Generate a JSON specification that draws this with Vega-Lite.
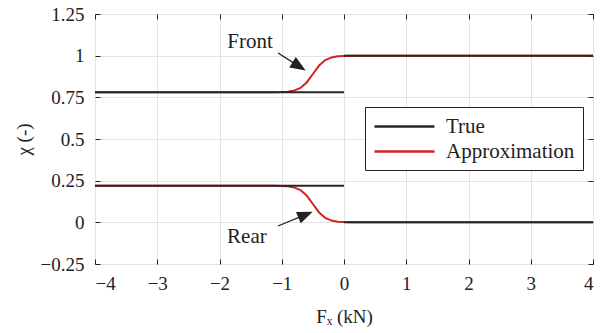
{
  "$schema": "https://vega.github.io/schema/vega-lite/v6.json",
  "width": 498,
  "height": 250,
  "autosize": {"type": "none"},
  "padding": {"left": 95, "top": 14, "right": 20, "bottom": 69},
  "config": {
    "view": {"stroke": "#222222", "strokeWidth": 1},
    "font": "Liberation Serif",
    "axis": {
      "labelFont": "Liberation Serif",
      "labelFontSize": 19,
      "labelColor": "#222222",
      "titleFont": "Liberation Serif",
      "titleFontSize": 19,
      "titleFontWeight": "normal",
      "titleColor": "#222222",
      "tickSize": -5,
      "tickColor": "#222222",
      "domainColor": "#222222",
      "gridColor": "#e3e3e3",
      "gridWidth": 1
    },
    "legend": {
      "orient": "none",
      "legendX": 270,
      "legendY": 93,
      "strokeColor": "#222222",
      "fillColor": "white",
      "padding": 8,
      "labelFont": "Liberation Serif",
      "labelFontSize": 21,
      "labelColor": "#222222",
      "symbolType": "M-1,0H5",
      "symbolSize": 400,
      "symbolStrokeWidth": 2.5,
      "rowPadding": 3,
      "labelOffset": 50,
      "title": null
    }
  },
  "resolve": {"axis": {"x": "independent", "y": "independent"}},
  "datasets": {
    "lines": [
      {"series": "Approximation", "curve": "af", "x": -4, "y": 0.78},
      {"series": "Approximation", "curve": "af", "x": -1.3, "y": 0.7801},
      {"series": "Approximation", "curve": "af", "x": -1.1, "y": 0.7806},
      {"series": "Approximation", "curve": "af", "x": -1.0, "y": 0.7815},
      {"series": "Approximation", "curve": "af", "x": -0.9, "y": 0.784},
      {"series": "Approximation", "curve": "af", "x": -0.8, "y": 0.7904},
      {"series": "Approximation", "curve": "af", "x": -0.7, "y": 0.8062},
      {"series": "Approximation", "curve": "af", "x": -0.6, "y": 0.8392},
      {"series": "Approximation", "curve": "af", "x": -0.5, "y": 0.89},
      {"series": "Approximation", "curve": "af", "x": -0.4, "y": 0.9408},
      {"series": "Approximation", "curve": "af", "x": -0.3, "y": 0.9738},
      {"series": "Approximation", "curve": "af", "x": -0.2, "y": 0.9896},
      {"series": "Approximation", "curve": "af", "x": -0.1, "y": 0.996},
      {"series": "Approximation", "curve": "af", "x": 0.0, "y": 0.9985},
      {"series": "Approximation", "curve": "af", "x": 0.1, "y": 0.9995},
      {"series": "Approximation", "curve": "af", "x": 0.3, "y": 0.9999},
      {"series": "Approximation", "curve": "af", "x": 4, "y": 1},
      {"series": "Approximation", "curve": "ar", "x": -4, "y": 0.22},
      {"series": "Approximation", "curve": "ar", "x": -1.3, "y": 0.2199},
      {"series": "Approximation", "curve": "ar", "x": -1.1, "y": 0.2194},
      {"series": "Approximation", "curve": "ar", "x": -1.0, "y": 0.2185},
      {"series": "Approximation", "curve": "ar", "x": -0.9, "y": 0.216},
      {"series": "Approximation", "curve": "ar", "x": -0.8, "y": 0.2096},
      {"series": "Approximation", "curve": "ar", "x": -0.7, "y": 0.1938},
      {"series": "Approximation", "curve": "ar", "x": -0.6, "y": 0.1608},
      {"series": "Approximation", "curve": "ar", "x": -0.5, "y": 0.11},
      {"series": "Approximation", "curve": "ar", "x": -0.4, "y": 0.0592},
      {"series": "Approximation", "curve": "ar", "x": -0.3, "y": 0.0262},
      {"series": "Approximation", "curve": "ar", "x": -0.2, "y": 0.0104},
      {"series": "Approximation", "curve": "ar", "x": -0.1, "y": 0.004},
      {"series": "Approximation", "curve": "ar", "x": 0.0, "y": 0.0015},
      {"series": "Approximation", "curve": "ar", "x": 0.1, "y": 0.0005},
      {"series": "Approximation", "curve": "ar", "x": 0.3, "y": 0.0001},
      {"series": "Approximation", "curve": "ar", "x": 4, "y": 0},
      {"series": "True", "curve": "tf1", "x": -4, "y": 0.78},
      {"series": "True", "curve": "tf1", "x": 0, "y": 0.78},
      {"series": "True", "curve": "tf2", "x": 0, "y": 1},
      {"series": "True", "curve": "tf2", "x": 4, "y": 1},
      {"series": "True", "curve": "tr1", "x": -4, "y": 0.22},
      {"series": "True", "curve": "tr1", "x": 0, "y": 0.22},
      {"series": "True", "curve": "tr2", "x": 0, "y": 0},
      {"series": "True", "curve": "tr2", "x": 4, "y": 0}
    ],
    "notes": [
      {"label": "Front", "tx": -1.51, "ty": 1.085, "x": -1.06, "y": 1.016, "hx": -0.721, "hy": 0.936, "angle": 122},
      {"label": "Rear", "tx": -1.56, "ty": -0.09, "x": -1.06, "y": -0.022, "hx": -0.618, "hy": 0.046, "angle": 67.6}
    ]
  },
  "layer": [
    {
      "data": {"name": "lines"},
      "transform": [{"filter": "datum.series === 'Approximation'"}],
      "mark": {"type": "line", "strokeWidth": 2, "clip": true},
      "encoding": {
        "x": {
          "field": "x", "type": "quantitative",
          "scale": {"domain": [-4, 4], "nice": false, "zero": false},
          "axis": {"orient": "bottom", "values": [-4, -3, -2, -1, 0, 1, 2, 3, 4], "title": "Fₓ (kN)", "labelPadding": 15, "titlePadding": 14, "labelExpr": "datum.value < 0 ? '−' + abs(datum.value) : '' + datum.value", "domain": false}
        },
        "y": {
          "field": "y", "type": "quantitative",
          "scale": {"domain": [-0.25, 1.25], "nice": false, "zero": false},
          "axis": {"orient": "left", "values": [-0.25, 0, 0.25, 0.5, 0.75, 1, 1.25], "title": "χ (-)", "labelPadding": 16, "titlePadding": 7, "labelExpr": "datum.value < 0 ? '−' + abs(datum.value) : '' + datum.value", "domain": false}
        },
        "color": {
          "field": "series", "type": "nominal",
          "scale": {"domain": ["True", "Approximation"], "range": ["#262626", "#d02323"]}
        },
        "detail": {"field": "curve"}
      }
    },
    {
      "data": {"name": "lines"},
      "transform": [{"filter": "datum.series === 'True'"}],
      "mark": {"type": "line", "strokeWidth": 2, "clip": true},
      "encoding": {
        "x": {"field": "x", "type": "quantitative", "axis": null},
        "y": {"field": "y", "type": "quantitative", "axis": null},
        "color": {"field": "series", "type": "nominal"},
        "detail": {"field": "curve"}
      }
    },
    {
      "data": {"name": "notes"},
      "mark": {"type": "rule", "color": "#222222", "strokeWidth": 1.3},
      "encoding": {
        "x": {"field": "x", "type": "quantitative", "axis": null},
        "y": {"field": "y", "type": "quantitative", "axis": null},
        "x2": {"field": "hx"},
        "y2": {"field": "hy"}
      }
    },
    {
      "data": {"name": "notes"},
      "mark": {"type": "point", "shape": "M0,-1L0.8,1L-0.8,1Z", "filled": true, "color": "#222222", "opacity": 1, "size": 240},
      "encoding": {
        "x": {"field": "hx", "type": "quantitative", "axis": null},
        "y": {"field": "hy", "type": "quantitative", "axis": null},
        "angle": {"field": "angle", "type": "quantitative", "scale": null}
      }
    },
    {
      "data": {"name": "notes"},
      "mark": {"type": "text", "font": "Liberation Serif", "fontSize": 21, "color": "#222222", "align": "center", "baseline": "middle"},
      "encoding": {
        "x": {
          "field": "tx", "type": "quantitative",
          "axis": {"orient": "top", "values": [-4, -3, -2, -1, 0, 1, 2, 3, 4], "labels": false, "grid": false, "domain": false, "title": null}
        },
        "y": {
          "field": "ty", "type": "quantitative",
          "axis": {"orient": "right", "values": [-0.25, 0, 0.25, 0.5, 0.75, 1, 1.25], "labels": false, "grid": false, "domain": false, "title": null}
        },
        "text": {"field": "label"}
      }
    }
  ]
}
